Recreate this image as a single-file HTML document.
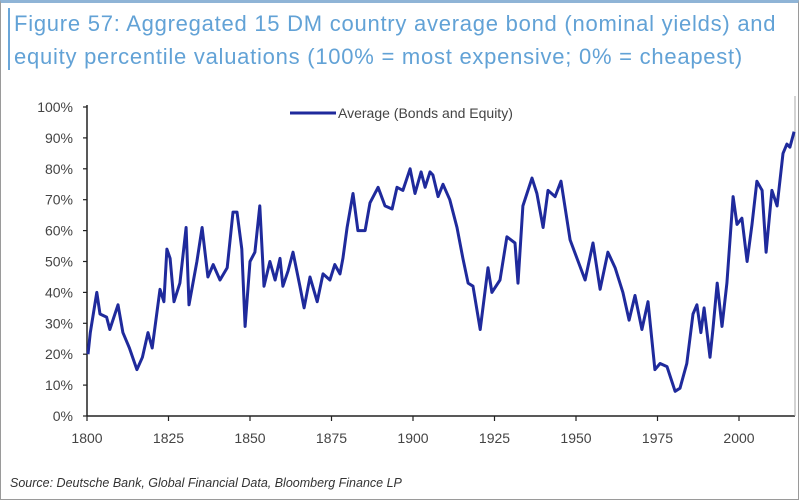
<!DOCTYPE html>
<html><head><meta charset="utf-8"><style>
html,body{margin:0;padding:0;background:#fff;}
body{width:800px;height:499px;overflow:hidden;position:relative;font-family:"Liberation Sans",sans-serif;}
</style></head><body>
<div style="position:absolute;left:0;top:0;width:797px;height:496px;border:1px solid #9a9a9a;border-top:3px solid #8fb4d6;"></div>
<div style="position:absolute;left:8px;top:8px;width:2px;height:62px;background:#6aa6d8;"></div>
<div style="position:absolute;left:14px;top:7px;color:#62a2d6;font-size:22px;letter-spacing:0.75px;line-height:33px;white-space:nowrap;">Figure 57: Aggregated 15 DM country average bond (nominal yields) and<br>equity percentile valuations (100% = most expensive; 0% = cheapest)</div>
<svg width="800" height="499" style="position:absolute;left:0;top:0;" id="svg"></svg>
<div style="position:absolute;left:10px;top:476px;font-size:12.5px;font-style:italic;color:#333;">Source: Deutsche Bank, Global Financial Data, Bloomberg Finance LP</div>
<script>
const years=[1800.3,1801,1803,1804,1806,1807,1809.5,1811,1813,1815.3,1817,1818.7,1820,1822.4,1823.6,1824.5,1825.5,1826.7,1828.5,1830.4,1831.3,1833.7,1835.3,1837.1,1838.7,1840.8,1843,1844.8,1846,1847.5,1848.5,1850,1851.5,1853,1854.3,1856.1,1857.7,1859.2,1860.1,1861.7,1863.2,1865.3,1866.6,1868.4,1870.6,1872.4,1874.5,1876,1877.6,1878.5,1879.8,1881.6,1883.1,1885.3,1886.8,1889.3,1891.4,1893.6,1895.1,1896.9,1899.1,1900.6,1902.5,1903.7,1905.2,1906.1,1907.7,1909.2,1911.3,1913.5,1915.3,1916.9,1918.4,1920.6,1923,1924.2,1926.7,1928.8,1931.3,1932.2,1933.7,1936.5,1938,1939.9,1941.4,1943.6,1945.4,1948.2,1950.3,1952.8,1955.2,1957.4,1959.8,1962,1964.4,1966.3,1968.1,1970.2,1972.1,1974.2,1975.8,1977.9,1980.4,1981.9,1984,1985.9,1987.1,1988.3,1989.3,1991.1,1992,1993.3,1994.8,1996.3,1998.2,1999.4,2000.9,2002.5,2004,2005.5,2007.1,2008.3,2010.1,2011.7,2013.5,2014.7,2015.6,2016.9];
const values=[20,27,40,33,32,28,36,27,22,15,19,27,22,41,37,54,51,37,43,61,36,50,61,45,49,44,48,66,66,54,29,50,53,68,42,50,44,51,42,47,53,42,35,45,37,46,44,49,46,51,61,72,60,60,69,74,68,67,74,73,80,72,79,74,79,78,71,75,70,61,51,43,42,28,48,40,44,58,56,43,68,77,72,61,73,71,76,57,51,44,56,41,53,48,40,31,39,28,37,15,17,16,8,9,17,33,36,27,35,19,28,43,29,43,71,62,64,50,62,76,73,53,73,68,85,88,87,92];
const yTicks=[0,10,20,30,40,50,60,70,80,90,100];
const xTicks=[1800,1825,1850,1875,1900,1925,1950,1975,2000];
const NS="http://www.w3.org/2000/svg";
const svg=document.getElementById('svg');
const X0=87,PXY=3.26,Y0=416,PXV=3.09;
function xs(y){return X0+(y-1800)*PXY;}
function ys(v){return Y0-v*PXV;}
function mk(t,a,txt){const e=document.createElementNS(NS,t);for(const k in a)e.setAttribute(k,a[k]);if(txt!=null)e.textContent=txt;svg.appendChild(e);return e;}
let e=mk('line',{x1:X0,y1:ys(100)-2,x2:X0,y2:Y0,stroke:'#222','stroke-width':1.5});


e=mk('line',{x1:X0,y1:Y0,x2:795,y2:Y0,stroke:'#222','stroke-width':1.5});


e=mk('line',{x1:795,y1:96,x2:795,y2:Y0,stroke:'#aaa','stroke-width':1});


yTicks.forEach(v=>{
  const t=mk('line',{x1:X0-4,y1:ys(v),x2:X0,y2:ys(v),stroke:'#222','stroke-width':1.2});
  
  
  const l=mk('text',{x:73,y:ys(v)+5,'text-anchor':'end','font-size':14,fill:'#444','font-family':'Liberation Sans, sans-serif'},v+'%');
  
  
});
xTicks.forEach(v=>{
  const t=mk('line',{x1:xs(v),y1:Y0,x2:xs(v),y2:Y0+5,stroke:'#222','stroke-width':1.2});
  
  
  const l=mk('text',{x:xs(v),y:443,'text-anchor':'middle','font-size':14,fill:'#444','font-family':'Liberation Sans, sans-serif'},String(v));
  
  
});
const pts=years.map((y,i)=>xs(y).toFixed(1)+','+ys(values[i]).toFixed(1)).join(' ');
e=mk('polyline',{points:pts,fill:'none',stroke:'#1f2a9c','stroke-width':3,'stroke-linejoin':'round'});


e=mk('line',{x1:290,y1:113,x2:336,y2:113,stroke:'#1f2a9c','stroke-width':3});


e=mk('text',{x:338,y:118,'font-size':14,fill:'#444','font-family':'Liberation Sans, sans-serif'},'Average (Bonds and Equity)');


</script>
</body></html>
